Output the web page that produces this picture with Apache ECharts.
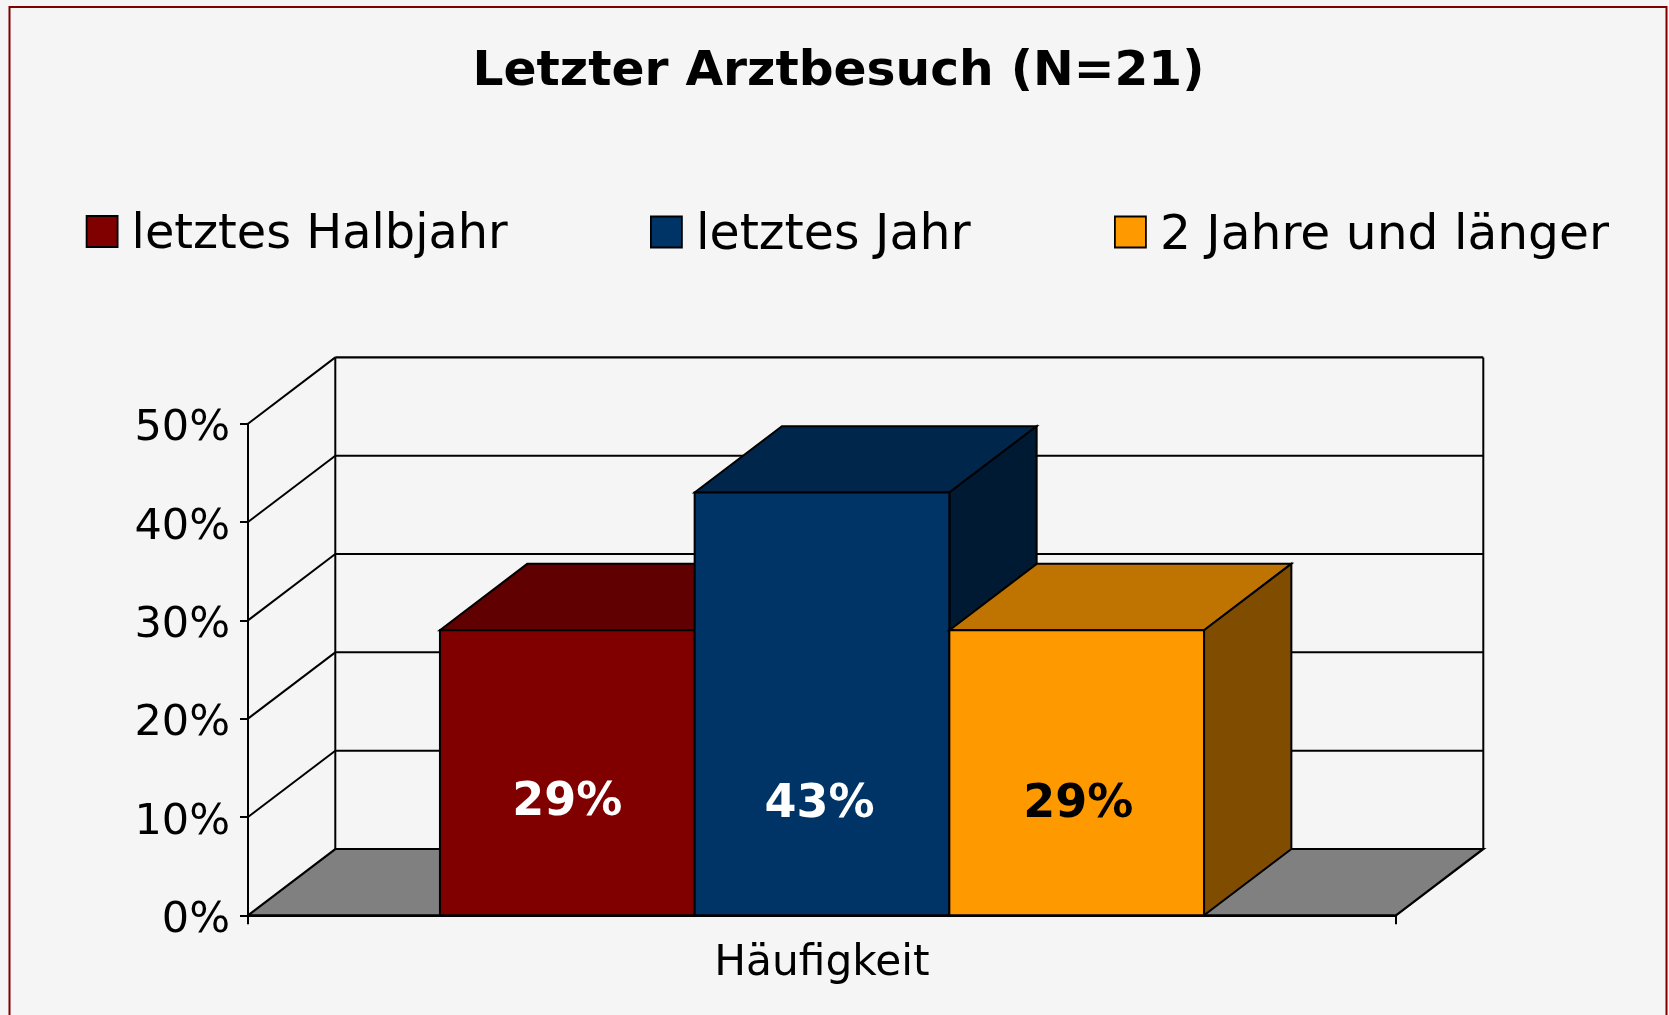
<!DOCTYPE html>
<html><head><meta charset="utf-8">
<style>html,body{margin:0;padding:0;background:#f5f5f5;overflow:hidden}#c{width:1669px;height:1015px}</style>
<script src="https://cdn.jsdelivr.net/npm/echarts@6/dist/echarts.min.js"></script>
</head><body><div id="c"></div>
<script>
const titleText = 'Letzter Arztbesuch (N=21)';
const categories = ['Häufigkeit'];
const seriesNames = ['letztes Halbjahr', 'letztes Jahr', '2 Jahre und länger'];
const halbjahr = [29];
const jahr = [43];
const laenger = [29];
const yTicks = [0, 10, 20, 30, 40, 50];
const yMax = 50, yStep = 10;

const FONT = '"DejaVu Sans", Verdana, sans-serif';
const DX = 87.3, DY = -66.3;      // perspective depth of the box
const BAR_SHARE = 254.7 / 1148;   // bar width as share of category band
const LINE = '#000';

const chart = echarts.init(document.getElementById('c'), null, {renderer: 'canvas'});

function poly(points, fill, lw) {
  return {type: 'polygon', shape: {points}, style: {fill, stroke: LINE, lineWidth: lw, lineJoin: 'miter'}};
}
function line(a, b, lw) {
  return {type: 'line', shape: {x1: a[0], y1: a[1], x2: b[0], y2: b[1]}, style: {stroke: LINE, lineWidth: lw}};
}

function renderWalls(params, api) {
  if (params.dataIndex !== 0) return null;
  const band = api.size([1, 0])[0];
  const c = api.coord([0, 0]);
  const xL = c[0] - band / 2, xR = c[0] + band / 2, y0 = c[1];
  const kids = [];
  kids.push(poly([[xL, y0], [xR, y0], [xR + DX, y0 + DY], [xL + DX, y0 + DY]], '#808080', 2.2));
  yTicks.forEach(t => {
    const y = api.coord([0, t])[1];
    if (t > 0) {
      kids.push(line([xL, y], [xL + DX, y + DY], 2));
      kids.push(line([xL + DX, y + DY], [xR + DX, y + DY], t === yMax ? 2.2 : 2));
    }
  });
  const yTop = api.coord([0, yMax])[1];
  kids.push(line([xL + DX, y0 + DY], [xL + DX, yTop + DY], 2));
  kids.push(line([xR + DX, y0 + DY], [xR + DX, yTop + DY], 2));
  return {type: 'group', children: kids};
}

function makeBar(colors, offset, labelColor, shift) {
  return function (params, api) {
    const band = api.size([1, 0])[0];
    const w = band * BAR_SHARE;
    const c = api.coord([api.value(0), 0]);
    const top = api.coord([api.value(0), api.value(1)])[1];
    const l = c[0] + (offset - 0.5) * w, r = l + w, b = c[1];
    return {type: 'group', children: [
      poly([[l, top], [r, top], [r + DX, top + DY], [l + DX, top + DY]], colors[1], 2),
      poly([[r, top], [r + DX, top + DY], [r + DX, b + DY], [r, b]], colors[2], 2),
      poly([[l, top], [r, top], [r, b], [l, b]], colors[0], 2),
      {type: 'text', style: {
        text: api.value(1) + '%', x: (l + r) / 2 + shift[0], y: b - 111 + shift[1],
        fill: labelColor, font: 'bold 46px ' + FONT, align: 'center', verticalAlign: 'middle'
      }}
    ]};
  };
}

const palettes = [
  ['#800000', '#600000', '#400000'],
  ['#003366', '#00264c', '#001a33'],
  ['#ff9900', '#bf7300', '#804d00']
];
const seriesData = [halbjahr, jahr, laenger];
const labelColors = ['#fff', '#fff', '#000'];
const labelShifts = [[0, -1], [-2.5, 1], [1.5, 1]];
const legendLefts = [85.7, 650, 1114];
const legendSizes = [47.8, 49, 48.7];

chart.setOption({
  animation: false,
  backgroundColor: '#f5f5f5',
  title: {
    text: titleText, left: 833.5, top: 43, textAlign: 'center',
    textStyle: {fontFamily: FONT, fontSize: 48.7, fontWeight: 'bold', color: '#000'}
  },
  legend: seriesNames.map((n, i) => ({
    data: [n], left: legendLefts[i], top: 211.5, padding: 0, icon: 'rect',
    itemWidth: 31, itemHeight: 31, selectedMode: false,
    itemStyle: {borderColor: '#000', borderWidth: 1.8},
    formatter: name => '{a|' + name + '}',
    textStyle: {
      color: '#000',
      rich: {a: {fontFamily: FONT, fontSize: legendSizes[i], color: '#000', padding: [8, 0, 0, 9]}}
    }
  })),
  grid: {left: 248, right: 273, top: 423.7, bottom: 99.7},
  xAxis: {
    type: 'category', data: categories,
    axisLine: {show: true, lineStyle: {color: LINE, width: 2.2}},
    axisTick: {show: true, length: 9, lineStyle: {color: LINE, width: 2}},
    axisLabel: {fontFamily: FONT, fontSize: 42.3, color: '#000', margin: 28}
  },
  yAxis: {
    type: 'value', min: 0, max: yMax, interval: yStep,
    axisLine: {show: true, lineStyle: {color: LINE, width: 2}},
    axisTick: {show: true, length: 8, lineStyle: {color: LINE, width: 2}},
    axisLabel: {fontFamily: FONT, fontSize: 43, color: '#000', margin: 18, formatter: '{value}%',
                verticalAlign: 'top', lineHeight: 11},
    splitLine: {show: false}
  },
  graphic: [{
    type: 'rect', z: 100, silent: true,
    shape: {x: 9.5, y: 7, width: 1657, height: 1100},
    style: {fill: 'none', stroke: '#800000', lineWidth: 2}
  }],
  series: [
    {type: 'custom', name: 'walls', z: 1, silent: true, renderItem: renderWalls,
     data: yTicks.map(t => [0, t]), encode: {x: 0, y: 1}, clip: false}
  ].concat(seriesNames.map((n, i) => ({
    type: 'custom', name: n, z: 2 + i, clip: false,
    itemStyle: {color: palettes[i][0]},
    renderItem: makeBar(palettes[i], i - 1, labelColors[i], labelShifts[i]),
    data: seriesData[i].map((v, k) => [k, v]), encode: {x: 0, y: 1}
  })))
});
</script></body></html>
